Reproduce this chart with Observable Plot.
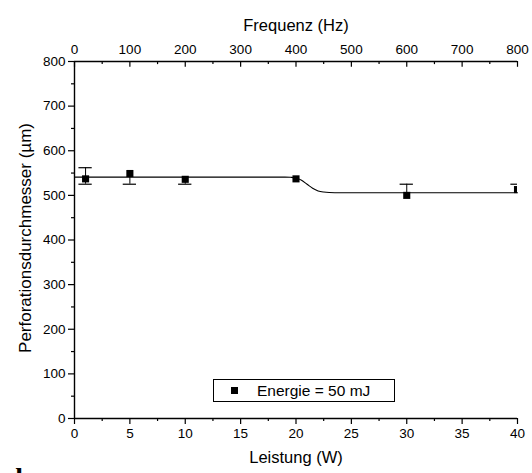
<!DOCTYPE html>
<html>
<head>
<meta charset="utf-8">
<script src="https://cdn.jsdelivr.net/npm/d3@7"></script>
<script src="https://cdn.jsdelivr.net/npm/@observablehq/plot@0.6"></script>
<style>
  html, body { margin: 0; padding: 0; background: #fff; overflow: hidden; }
  #wrap { position: relative; width: 532px; height: 473px; font-family: "Liberation Sans", Arial, sans-serif; }
  #legend { position: absolute; left: 213px; top: 379px; width: 180px; height: 21px; border: 1px solid #000; background: #fff;
            font-size: 15.5px; line-height: 21px; color: #000; }
  #legend .sw { position: absolute; left: 17px; top: 7px; width: 7px; height: 7px; background: #000; }
  #legend .tx { position: absolute; left: 43px; top: 0; white-space: nowrap; }
</style>
</head>
<body>
<div id="wrap"></div>
<script>
// Data (Leistung in W; Frequenz = 20 × Leistung)
const leistung = [1, 5, 10, 20, 30, 40];
const durchmesser = [537, 549, 536, 537, 500, 513];
const errLow  = [525, 525, 525, 537, 500, 513];
const errHigh = [562, 549, 536, 537, 525, 525];

// Fitted (sigmoidal) curve
const fitX = [0, 19, 19.5, 20, 20.5, 21, 21.5, 22, 22.5, 23, 24, 40];
const fitY = [541, 541, 540.5, 539, 534, 525, 516, 510, 507.5, 506.5, 506, 506];

const xTicks = [0, 5, 10, 15, 20, 25, 30, 35, 40];
const xMinor = [2.5, 7.5, 12.5, 17.5, 22.5, 27.5, 32.5, 37.5];
const freqPerW = 20;
const yTicks = [0, 100, 200, 300, 400, 500, 600, 700, 800];
const yMinor = [50, 150, 250, 350, 450, 550, 650, 750];

const pts = leistung.map((w, i) => ({w, d: durchmesser[i], lo: errLow[i], hi: errHigh[i]}));
const fit = fitX.map((x, i) => ({x, y: fitY[i]}));
const caps = [];
pts.forEach(p => {
  if (p.lo < p.d) caps.push({w: p.w, y: p.lo});
  if (p.hi > p.d) caps.push({w: p.w, y: p.hi});
});

const font = "Liberation Sans, Arial, sans-serif";
const tickFont = 13.5;
const titleFont = 16.5;

const chart = Plot.plot({
  width: 532,
  height: 473,
  marginLeft: 74,
  marginRight: 15,
  marginTop: 61,
  marginBottom: 55,
  style: {fontFamily: font, fontSize: tickFont + "px", color: "#000", background: "#fff", overflow: "visible"},
  x: {domain: [0, 40]},
  y: {domain: [0, 800]},
  marks: [
    // bottom axis
    Plot.axisX({ticks: xTicks, tickSize: 6, tickPadding: 4, tickFormat: d => String(d), label: null, fontSize: tickFont, strokeWidth: 1.2}),
    Plot.axisX({ticks: xMinor, tickSize: 3, tickFormat: () => "", label: null, strokeWidth: 1.2}),
    // top axis (frequency)
    Plot.axisX({anchor: "top", ticks: xTicks, tickSize: 0, tickPadding: 8, tickFormat: d => String(d * freqPerW), label: null, fontSize: tickFont}),
    Plot.ruleX(xTicks, {x: d => d, y1: 800, y2: 787, strokeWidth: 1.2}),
    Plot.ruleX(xMinor, {x: d => d, y1: 800, y2: 793, strokeWidth: 1.2}),
    // left axis
    Plot.axisY({ticks: yTicks, tickSize: 6, tickPadding: 3, tickFormat: d => String(d), label: null, fontSize: tickFont, strokeWidth: 1.2}),
    Plot.axisY({ticks: yMinor, tickSize: 3, tickFormat: () => "", label: null, strokeWidth: 1.2}),
    // axis lines
    Plot.ruleY([0, 800], {strokeWidth: 1.4}),
    Plot.ruleX([0], {strokeWidth: 1.4}),
    // fit curve
    Plot.line(fit, {x: "x", y: "y", curve: "monotone-x", stroke: "#000", strokeWidth: 1.1}),
    // error bars
    Plot.ruleX(pts.filter(p => p.hi > p.lo), {x: "w", y1: "lo", y2: "hi", stroke: "#000", strokeWidth: 1, clip: true}),
    Plot.ruleY(caps, {y: "y", x1: d => d.w - 0.6, x2: d => d.w + 0.6, stroke: "#000", strokeWidth: 1.2, clip: true}),
    // points
    Plot.dot(pts, {x: "w", y: "d", symbol: "square", r: 4, fill: "#000", stroke: null, clip: true}),
    // titles
    Plot.text(["Leistung (W)"], {frameAnchor: "bottom", dy: 44, fontSize: titleFont, fontFamily: font}),
    Plot.text(["Frequenz (Hz)"], {frameAnchor: "top", dy: -42, fontSize: titleFont, fontFamily: font}),
    Plot.text(["Perforationsdurchmesser (µm)"], {frameAnchor: "left", dx: -49, dy: -2, rotate: -90, textAnchor: "middle", fontSize: 17, fontFamily: font}),
    Plot.text(["b"], {frameAnchor: "bottom-left", dx: -59, dy: 68, lineAnchor: "bottom", textAnchor: "start", fontSize: 28, fontWeight: "bold", fontFamily: "Liberation Serif, DejaVu Serif, serif"})
  ]
});

const wrap = document.getElementById("wrap");
wrap.appendChild(chart);
const legend = document.createElement("div");
legend.id = "legend";
legend.innerHTML = '<div class="sw"></div><div class="tx">Energie = 50 mJ</div>';
wrap.appendChild(legend);
</script>
</body>
</html>
